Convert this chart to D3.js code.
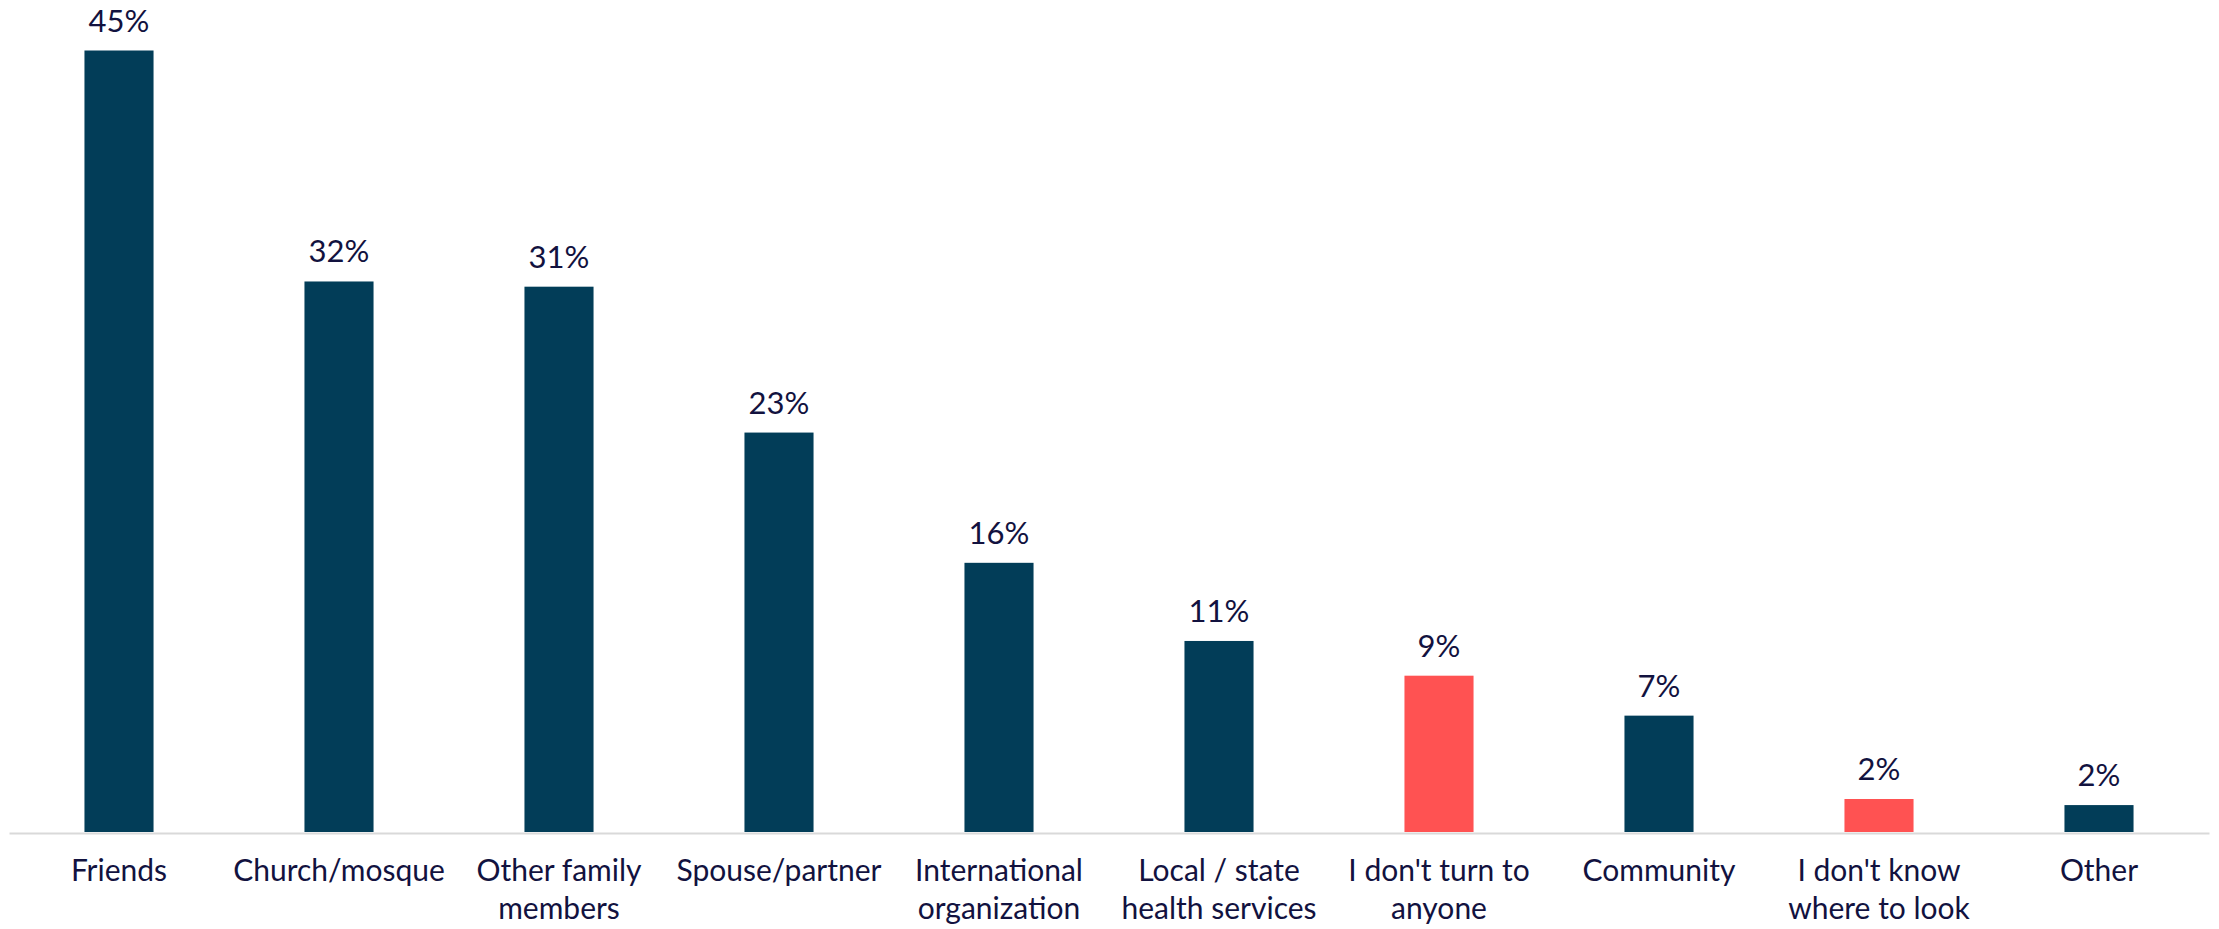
<!DOCTYPE html>
<html>
<head>
<meta charset="utf-8">
<script src="https://cdn.jsdelivr.net/npm/d3@7"></script>
<style>
  html, body { margin: 0; padding: 0; background: #ffffff; }
  svg { display: block; }
  text { font-family: "Lato", "Noto Sans", sans-serif; }
</style>
</head>
<body>
<svg id="chart" width="2219" height="929"></svg>
<script>
// ---- data ----
const categories = [
  "Friends",
  "Church/mosque",
  "Other family\nmembers",
  "Spouse/partner",
  "International\norganization",
  "Local / state\nhealth services",
  "I don't turn to\nanyone",
  "Community",
  "I don't know\nwhere to look",
  "Other"
];
const values = [45, 31.7, 31.4, 23, 15.5, 11, 9, 6.7, 1.9, 1.55];
const valueLabels = ["45%", "32%", "31%", "23%", "16%", "11%", "9%", "7%", "2%", "2%"];
const highlighted = [false, false, false, false, false, false, true, false, true, false];

// ---- styles ----
const barColor = "#023d58";
const highlightColor = "#ff5252";
const textColor = "#12123f";
const axisColor = "#d9d9d9";

const width = 2219, height = 929;
const baseline = 832;
const svg = d3.select("#chart");

const x = d3.scaleBand()
  .domain(categories)
  .range([9, 2209])
  .padding(0);

const y = d3.scaleLinear()
  .domain([0, 45])
  .range([baseline, 50.5]);

const barW = x.bandwidth() * 0.314;

// bars
svg.append("g")
  .selectAll("rect")
  .data(categories)
  .join("rect")
  .attr("x", d => x(d) + (x.bandwidth() - barW) / 2)
  .attr("y", (d, i) => y(values[i]))
  .attr("width", barW)
  .attr("height", (d, i) => y(0) - y(values[i]))
  .attr("fill", (d, i) => highlighted[i] ? highlightColor : barColor);

// value labels
svg.append("g")
  .selectAll("text")
  .data(categories)
  .join("text")
  .attr("x", d => x(d) + x.bandwidth() / 2)
  .attr("y", (d, i) => y(values[i]) - 19)
  .attr("text-anchor", "middle")
  .attr("font-size", 31)
  .attr("fill", textColor)
  .text((d, i) => valueLabels[i]);

// axis
const axis = svg.append("g")
  .attr("transform", `translate(0,${baseline + 1})`)
  .call(d3.axisBottom(x).tickSize(0).tickSizeOuter(0).tickPadding(0));

axis.select(".domain")
  .attr("stroke", axisColor)
  .attr("stroke-width", 2);

axis.selectAll(".tick text").remove();
axis.selectAll(".tick")
  .append("text")
  .attr("text-anchor", "middle")
  .attr("fill", textColor)
  .attr("font-size", 30)
  .each(function(d) {
    const lines = d.split("\n");
    const t = d3.select(this);
    lines.forEach((ln, i) => {
      t.append("tspan")
        .attr("x", 0)
        .attr("y", 48 + i * 38)
        .text(ln);
    });
  });
</script>
</body>
</html>
